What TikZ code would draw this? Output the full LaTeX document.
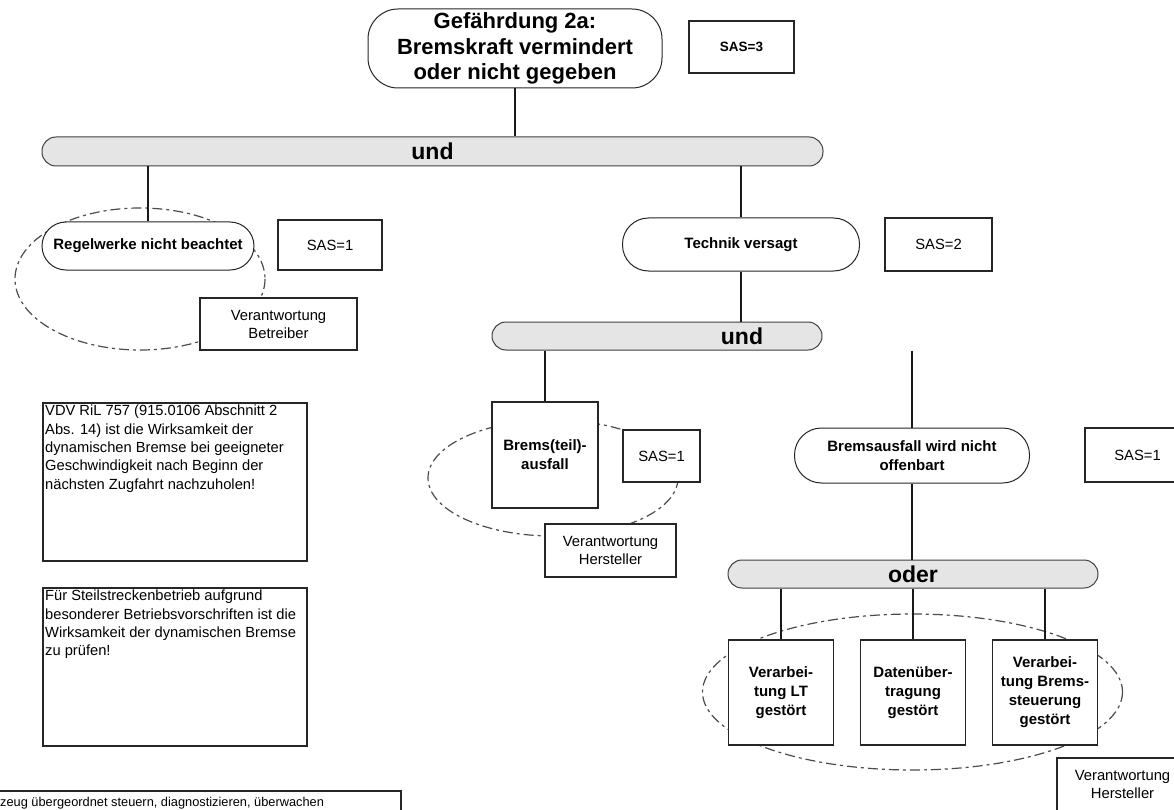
\documentclass[tikz,border=0pt]{standalone}
\usepackage{fontspec}
\setmainfont{Liberation Sans}
\begin{document}
\begin{tikzpicture}[x=1pt,y=-1pt,
  box/.style={draw=black!85, line width=1.5pt, fill=white, inner sep=2pt, align=center,
    font=\fontsize{14.8}{18}\selectfont},
  event/.style={box, line width=1pt, rounded corners=#1, font=\bfseries\fontsize{15}{18.5}\selectfont},
  gate/.style={draw=black!75, line width=1pt, fill=black!10, rounded corners=14pt, inner sep=0pt,
    font=\bfseries\fontsize{23}{25}\selectfont},
  sq/.style={box, minimum width=105pt, minimum height=105pt, font=\bfseries\fontsize{15}{19}\selectfont},
  note/.style={draw=black!85, line width=1.5pt, fill=white, inner sep=0pt},
  notetext/.style={anchor=north west, inner sep=3pt, align=left,
    font=\fontsize{14.7}{18.3}\selectfont},
  grp/.style={draw=black!70, line width=1.2pt, dash pattern=on 10pt off 4pt on 3pt off 4pt},
  conn/.style={draw=black!90, line width=2pt}
]
\useasboundingbox (0,0) rectangle (1174,810);
\clip (0,0) rectangle (1174,810);
\fill[white] (0,0) rectangle (1174,810);

% responsibility groups (drawn first, partly hidden by the boxes)
\draw[grp] (140,279) ellipse [x radius=125, y radius=71];
\draw[grp] (553,478) ellipse [x radius=125, y radius=58];
\draw[grp] (912.5,692) ellipse [x radius=210, y radius=78];

% top event
\node[event=30pt, minimum width=294pt, minimum height=79pt,
  font=\bfseries\fontsize{22}{25.5}\selectfont] (top) at (515,48.5)
  {Gefährdung 2a:\\Bremskraft vermindert\\oder nicht gegeben};
\node[box, minimum width=105pt, minimum height=52pt, font=\bfseries\fontsize{13.5}{16}\selectfont]
  (sas3) at (741.5,47) {SAS=3};

% first AND gate
\node[gate, minimum width=781pt, minimum height=29pt] (und1) at (432.5,151.5) {und};

% left branch
\node[event=24pt, minimum width=212pt, minimum height=48pt] (regel) at (148,246)
  {Regelwerke nicht beachtet};
\node[box, minimum width=104pt, minimum height=50pt] (sasR) at (330,245) {SAS=1};
\node[box, minimum width=157pt, minimum height=52pt] (betr) at (278.5,324)
  {Verantwortung\\Betreiber};

% right branch
\node[event=26pt, minimum width=237pt, minimum height=53pt] (technik) at (741,244.5)
  {Technik versagt};
\node[box, minimum width=107pt, minimum height=53pt] (sas2) at (938.5,244.5) {SAS=2};

% second AND gate
\node[gate, minimum width=330pt, minimum height=28pt,
  label={[font=\bfseries\fontsize{23}{25}\selectfont, xshift=85pt]center:und}] (und2) at (657,336) {};

\node[sq, minimum width=106pt, minimum height=106pt] (brems) at (545,455) {Brems(teil)-\\ausfall};
\node[box, minimum width=77pt, minimum height=52pt] (sasB) at (661.5,456) {SAS=1};
\node[box, minimum width=131pt, minimum height=53pt] (herst1) at (610.5,550.5)
  {Verantwortung\\Hersteller};

\node[event=27pt, minimum width=235pt, minimum height=55pt] (bausfall) at (912,455.5)
  {Bremsausfall wird nicht\\offenbart};
\node[box, minimum width=105pt, minimum height=54pt] (sasBR) at (1137.5,455) {SAS=1};

% OR gate
\node[gate, minimum width=370pt, minimum height=28pt] (oder) at (913,574) {oder};

\node[sq] (vlt) at (781,692.5) {Verarbei-\\tung LT\\gestört};
\node[sq] (dat) at (913,692.5) {Datenüber-\\tragung\\gestört};
\node[sq] (vbs) at (1045,692.5) {Verarbei-\\tung Brems-\\steuerung\\gestört};
\node[box, minimum width=131pt, minimum height=53pt] (herst2) at (1122.5,784.5)
  {Verantwortung\\Hersteller};

% notes
\node[note, anchor=north west, minimum width=264pt, minimum height=158pt] (vdv) at (42,402) {};
\node[notetext] at (vdv.north west) {VDV RiL 757 (915.0106 Abschnitt 2\\Abs. 14) ist die Wirksamkeit der\\dynamischen Bremse bei geeigneter\\Geschwindigkeit nach Beginn der\\nächsten Zugfahrt nachzuholen!};
\node[note, anchor=north west, minimum width=264pt, minimum height=158pt] (steil) at (42,587) {};
\node[notetext] at (steil.north west) {Für Steilstreckenbetrieb aufgrund\\besonderer Betriebsvorschriften ist die\\Wirksamkeit der dynamischen Bremse\\zu prüfen!};
\node[note, anchor=north west, minimum width=410pt, minimum height=40pt] (fz) at (-10,790) {};
\node[anchor=west, inner sep=0pt, font=\fontsize{12.8}{15}\selectfont] at (0,803)
  {zeug übergeordnet steuern, diagnostizieren, überwachen};

% connectors
\draw[conn] (top.south) -- (top.south |- und1.north);
\draw[conn] (regel.north |- und1.south) -- (regel.north);
\draw[conn] (technik.north |- und1.south) -- (technik.north);
\draw[conn] (technik.south) -- (technik.south |- und2.north);
\draw[conn] (brems.north |- und2.south) -- (brems.north);
\draw[conn] (bausfall.north |- und2.south) -- (bausfall.north);
\draw[conn] (bausfall.south) -- (bausfall.south |- oder.north);
\draw[conn] (vlt.north |- oder.south) -- (vlt.north);
\draw[conn] (dat.north |- oder.south) -- (dat.north);
\draw[conn] (vbs.north |- oder.south) -- (vbs.north);
\end{tikzpicture}
\end{document}
